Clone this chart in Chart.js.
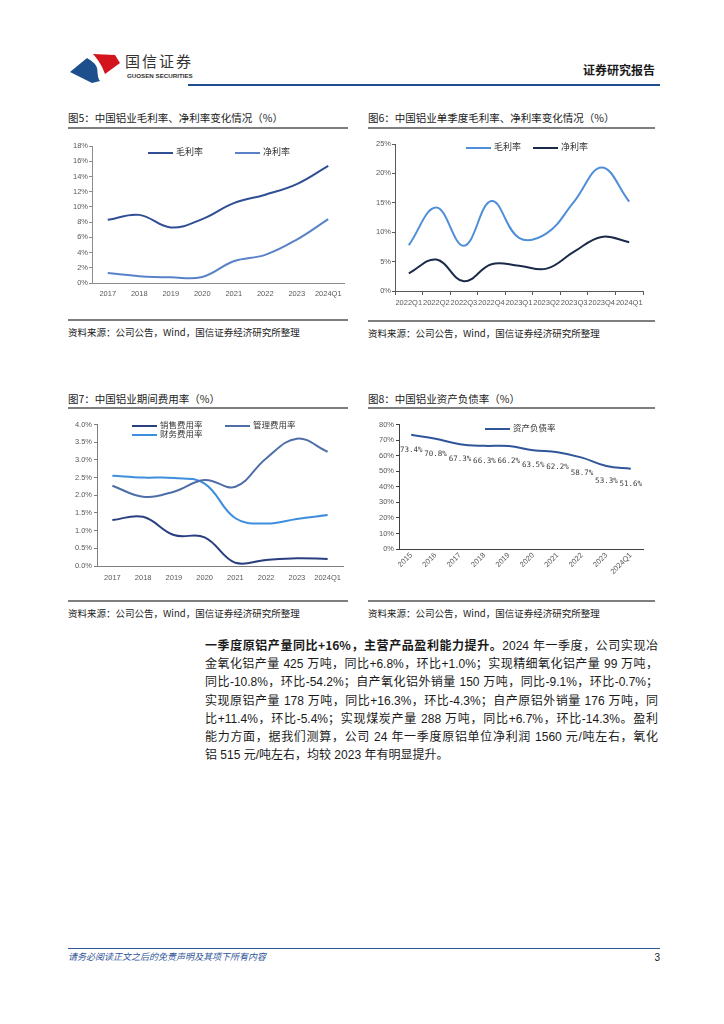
<!DOCTYPE html>
<html>
<head>
<meta charset="utf-8">
<script src="https://cdn.jsdelivr.net/npm/chart.js@4.4.1/dist/chart.umd.min.js"></script>
<style>
  body { margin: 0; width: 724px; height: 1024px; background: #fff; position: relative; overflow: hidden;
         font-family: "Liberation Sans", "Noto Sans CJK SC", sans-serif; color: #1a1a1a; }
  .abs { position: absolute; }
  .ftitle { font-family: "Noto Sans CJK SC", sans-serif; font-size: 10.5px; line-height: 14px; white-space: nowrap; color: #1a1a1a; }
  .rule { height: 0; border-top: 2px solid #7f7f7f; }
  .src { font-family: "Noto Sans CJK SC", sans-serif; font-size: 9.5px; line-height: 12px; white-space: nowrap; color: #222; }
  .lg { position: absolute; font-family: "Noto Sans CJK SC", sans-serif; white-space: nowrap; color: #333; line-height: 12px; }
  .lg i { display: inline-block; width: 25px; height: 2px; vertical-align: middle; margin-right: 3px; }
  .body { left: 205px; top: 636px; width: 453px; font-size: 12px; line-height: 18.2px; color: #1a1a1a; }
  .body div { text-align: justify; text-align-last: justify; white-space: nowrap; }
  .body div.last { text-align-last: left; }
</style>
</head>
<body>

<!-- header -->
<svg class="abs" style="left:70px;top:52px" width="52" height="34" viewBox="0 0 52 34">
  <path d="M0,20 L17,6 C22,9 26,12 27,16 C28,20 27,25 30,29 L22,31 Z" fill="#1d4f8c"/>
  <path d="M23,2 L45,3 L50,11 L35,22 C33,17 31,11 23,2 Z" fill="#d4141c"/>
</svg>
<div class="abs" style="left:125px;top:52px;font-family:'Noto Sans CJK SC';font-size:15px;letter-spacing:2px;color:#333;line-height:18px">国信证券</div>
<div class="abs" style="left:127px;top:72px;font-family:'Liberation Sans';font-weight:bold;font-size:6.2px;color:#333;line-height:8px">GUOSEN SECURITIES</div>
<div class="abs" style="right:69px;top:62px;font-family:'Noto Sans CJK SC';font-weight:bold;font-size:12px;line-height:16px">证券研究报告</div>
<div class="abs" style="left:188px;top:84px;width:472px;height:2px;background:#1f4e8c"></div>

<!-- figure 5 -->
<div class="abs ftitle" style="left:68px;top:111px">图5：中国铝业毛利率、净利率变化情况（%）</div>
<div class="abs rule" style="left:68px;top:127px;width:280px"></div>
<div class="abs" style="left:60px;top:140px"><canvas id="c5" width="290" height="160"></canvas></div>
<div class="abs rule" style="left:68px;top:319px;width:280px"></div>
<div class="abs src" style="left:68px;top:326px">资料来源：公司公告，Wind，国信证券经济研究所整理</div>

<!-- figure 6 -->
<div class="abs ftitle" style="left:368px;top:111px">图6：中国铝业单季度毛利率、净利率变化情况（%）</div>
<div class="abs rule" style="left:368px;top:127px;width:287px"></div>
<div class="abs" style="left:360px;top:138px"><canvas id="c6" width="295" height="173"></canvas></div>
<div class="abs rule" style="left:368px;top:320px;width:287px"></div>
<div class="abs src" style="left:368px;top:327px">资料来源：公司公告，Wind，国信证券经济研究所整理</div>

<!-- figure 7 -->
<div class="abs ftitle" style="left:68px;top:392px">图7：中国铝业期间费用率（%）</div>
<div class="abs rule" style="left:68px;top:407px;width:280px"></div>
<div class="abs" style="left:60px;top:418px"><canvas id="c7" width="290" height="168"></canvas></div>
<div class="abs rule" style="left:68px;top:600px;width:280px"></div>
<div class="abs src" style="left:68px;top:607px">资料来源：公司公告，Wind，国信证券经济研究所整理</div>

<!-- figure 8 -->
<div class="abs ftitle" style="left:368px;top:392px">图8：中国铝业资产负债率（%）</div>
<div class="abs rule" style="left:368px;top:407px;width:287px"></div>
<div class="abs" style="left:360px;top:418px"><canvas id="c8" width="295" height="178"></canvas></div>
<div class="abs rule" style="left:368px;top:600px;width:287px"></div>
<div class="abs src" style="left:368px;top:607px">资料来源：公司公告，Wind，国信证券经济研究所整理</div>

<!-- body text -->
<div class="abs body">
  <div><b style="font-family:'Noto Sans CJK SC'">一季度原铝产量同比+16%，主营产品盈利能力提升。</b>2024 年一季度，公司实现冶</div>
  <div>金氧化铝产量 425 万吨，同比+6.8%，环比+1.0%；实现精细氧化铝产量 99 万吨，</div>
  <div>同比-10.8%，环比-54.2%；自产氧化铝外销量 150 万吨，同比-9.1%，环比-0.7%；</div>
  <div>实现原铝产量 178 万吨，同比+16.3%，环比-4.3%；自产原铝外销量 176 万吨，同</div>
  <div>比+11.4%，环比-5.4%；实现煤炭产量 288 万吨，同比+6.7%，环比-14.3%。盈利</div>
  <div>能力方面，据我们测算，公司 24 年一季度原铝单位净利润 1560 元/吨左右，氧化</div>
  <div class="last">铝 515 元/吨左右，均较 2023 年有明显提升。</div>
</div>

<!-- footer -->
<div class="abs" style="left:68px;top:948px;width:592px;height:1px;background:#2f5597"></div>
<div class="abs" style="left:68px;top:951px;font-family:'Noto Sans CJK SC';font-style:italic;font-size:9px;line-height:12px;color:#2f5597">请务必阅读正文之后的免责声明及其项下所有内容</div>
<div class="abs" style="right:64px;top:951px;font-size:10px;line-height:13px;color:#1a1a1a">3</div>

<script>
// ---- data ----
const years = ['2017', '2018', '2019', '2020', '2021', '2022', '2023', '2024Q1'];
const grossMargin = [8.3, 8.95, 7.3, 8.4, 10.5, 11.6, 13.0, 15.4];
const netMargin = [1.3, 0.9, 0.75, 0.8, 2.85, 3.7, 5.7, 8.4];

const quarters = ['2022Q1', '2022Q2', '2022Q3', '2022Q4', '2023Q1', '2023Q2', '2023Q3', '2023Q4', '2024Q1'];
const qGrossMargin = [7.8, 14.2, 7.7, 15.3, 9.05, 9.8, 15.2, 21.0, 15.2];
const qNetMargin = [3.0, 5.35, 1.65, 4.55, 4.3, 3.8, 6.7, 9.2, 8.3];

const sellingRate = [1.30, 1.39, 0.875, 0.81, 0.09, 0.17, 0.22, 0.20];
const adminRate = [2.27, 1.96, 2.10, 2.43, 2.24, 3.04, 3.60, 3.23];
const financeRate = [2.55, 2.50, 2.49, 2.33, 1.35, 1.20, 1.33, 1.44];

const debtYears = ['2015', '2016', '2017', '2018', '2019', '2020', '2021', '2022', '2023', '2024Q1'];
const debtRatio = [73.4, 70.8, 67.3, 66.3, 66.2, 63.5, 62.2, 58.7, 53.3, 51.6];

const tickFont = {family: 'Liberation Sans', size: 7.5};

// draws value labels under each point of the first dataset
const pointLabels = {
    id: 'pointLabels',
    afterDatasetsDraw(chart) {
        const ctx = chart.ctx;
        const ds = chart.data.datasets[0];
        ctx.save();
        ctx.font = '7.5px "DejaVu Sans Mono"';
        ctx.fillStyle = '#404040';
        ctx.textAlign = 'center';
        ctx.textBaseline = 'middle';
        chart.getDatasetMeta(0).data.forEach((pt, i) => {
            ctx.fillText(ds.data[i].toFixed(1) + '%', pt.x, pt.y + 15);
        });
        ctx.restore();
    }
};

function lineChart(id, c) {
    return new Chart(document.getElementById(id), {
        type: 'line',
        data: {
            labels: c.labels,
            datasets: c.series.map(s => ({
                label: s.name, data: s.data, borderColor: s.color,
                borderWidth: 2, pointRadius: 0, tension: 0.4, fill: false
            }))
        },
        options: {
            responsive: false,
            animation: false,
            layout: {padding: c.pad},
            plugins: {legend: {display: false}, tooltip: {enabled: false}},
            scales: {
                x: {
                    offset: true,
                    grid: {display: c.xTicks, drawTicks: c.xTicks, offset: true, drawOnChartArea: false, tickLength: 4, color: c.axis},
                    border: {color: c.axis, width: 1},
                    ticks: {font: tickFont, color: '#595959', padding: c.xPad, autoSkip: false,
                            minRotation: c.rot || 0, maxRotation: c.rot || 0},
                    afterFit: s => { s.height = c.xH; }
                },
                y: {
                    min: 0, max: c.max,
                    grid: {drawOnChartArea: false, tickLength: 3, color: c.axis},
                    border: {color: c.axis, width: 1},
                    ticks: {stepSize: c.step, font: tickFont, color: '#595959', padding: c.yPad, callback: c.fmt},
                    afterFit: s => { s.width = c.yW; }
                }
            }
        },
        plugins: c.plugins || []
    });
}

function legend(series, spots, size) {
    series.forEach((s, i) => {
        const d = document.createElement('div');
        d.className = 'lg';
        d.style.left = spots[i][0] + 'px';
        d.style.top = (spots[i][1] - 6) + 'px';
        d.style.fontSize = size + 'px';
        d.innerHTML = '<i style="background:' + s.color + '"></i>' + s.name;
        document.body.appendChild(d);
    });
}

const pct0 = v => v + '%';

const s5 = [{name: '毛利率', data: grossMargin, color: '#2f4e93'},
            {name: '净利率', data: netMargin, color: '#5a82c8'}];
lineChart('c5', {labels: years, series: s5, max: 18, step: 2, fmt: pct0,
    pad: {top: 6, right: 6, bottom: 0, left: 0}, yW: 32, xH: 17, xPad: 6, yPad: 1,
    xTicks: false, axis: '#8c8c8c'});
legend(s5, [[148, 152], [235, 152]], 9);

const s6 = [{name: '毛利率', data: qGrossMargin, color: '#4f8ed8'},
            {name: '净利率', data: qNetMargin, color: '#1b2a48'}];
lineChart('c6', {labels: quarters, series: s6, max: 25, step: 5, fmt: pct0,
    pad: {top: 6, right: 12, bottom: 0, left: 0}, yW: 35, xH: 20, xPad: 3, yPad: 1,
    xTicks: true, axis: '#595959'});
legend(s6, [[466, 147], [533, 147]], 9);

const s7 = [{name: '销售费用率', data: sellingRate, color: '#2a3f80'},
            {name: '管理费用率', data: adminRate, color: '#4e6ea8'},
            {name: '财务费用率', data: financeRate, color: '#3e8ede'}];
lineChart('c7', {labels: years, series: s7, max: 4, step: 0.5, fmt: v => v.toFixed(1) + '%',
    pad: {top: 6, right: 7, bottom: 0, left: 0}, yW: 37, xH: 20, xPad: 7, yPad: 2,
    xTicks: false, axis: '#7f7f7f'});
legend(s7, [[132, 424], [225, 424], [132, 433]], 8.5);

const s8 = [{name: '资产负债率', data: debtRatio, color: '#2f559a'}];
lineChart('c8', {labels: debtYears, series: s8, max: 80, step: 10, fmt: pct0,
    pad: {top: 6, right: 12, bottom: 0, left: 0}, yW: 39, xH: 47, xPad: 2, yPad: 2,
    xTicks: false, axis: '#404040', rot: 45, plugins: [pointLabels]});
legend(s8, [[485, 427]], 8.5);
</script>
</body>
</html>
